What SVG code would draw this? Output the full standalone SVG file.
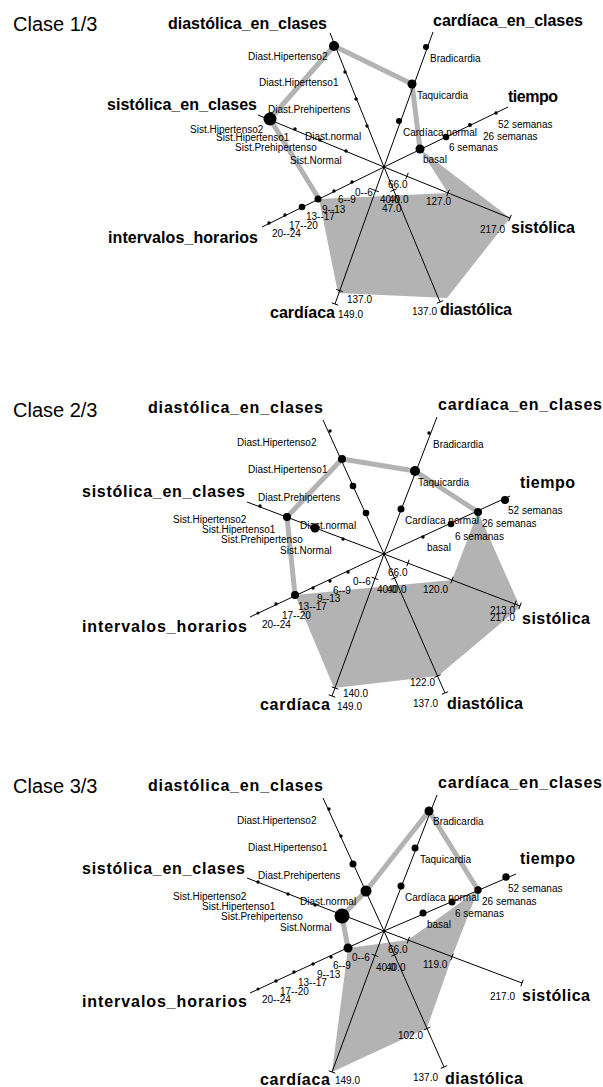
<svg xmlns="http://www.w3.org/2000/svg" width="603" height="1087" viewBox="0 0 603 1087">
<style>
text{font-family:"Liberation Sans",Arial,sans-serif;fill:#000}
.t{font-size:10px}
.h{font-size:16px;font-weight:bold}
.c{font-size:20px}
.ax{stroke:#000;stroke-width:1;fill:none}
.tk{stroke:#000;stroke-width:1}
.fill{fill:#b3b3b3;stroke:none}
.mode{fill:none;stroke:#b3b3b3;stroke-width:5;stroke-linejoin:round;stroke-linecap:round}
.d{fill:#000}
</style>
<rect width="603" height="1087" fill="#fff"/>

<!-- ================= PANEL 1 ================= -->
<g id="panel1">
<text class="c" x="13" y="31">Clase 1/3</text>
<g id="p1-region"><path class="fill" d="M420,149 L510,218 L447,298 L338,293 L319,199 L448,193 Z"/></g>
<g id="p1-connectors"><path class="mode" d="M319,199 L270,119 L334,46 L412,84 L420,149"/></g>
<g id="p1-diastolica_en_clases">
<line class="ax" x1="384" y1="167" x2="330" y2="33"/>
<circle class="d" cx="334" cy="46" r="5"/><circle class="d" cx="345" cy="72" r="1.7"/><circle class="d" cx="356" cy="99" r="1.7"/><circle class="d" cx="367" cy="126" r="1.7"/>
<text class="h" x="168" y="29" textLength="159">diastólica_en_clases</text>
<text class="t" x="248" y="60">Diast.Hipertenso2</text>
<text class="t" x="259" y="86">Diast.Hipertenso1</text>
<text class="t" x="268" y="113">Diast.Prehipertens</text>
<text class="t" x="305" y="140">Diast.normal</text>
</g>
<g id="p1-cardiaca_en_clases">
<line class="ax" x1="384" y1="167" x2="433" y2="32"/>
<circle class="d" cx="426" cy="47" r="3"/><circle class="d" cx="412" cy="84" r="4.5"/><circle class="d" cx="399" cy="121" r="3"/>
<text class="h" x="433" y="26" textLength="150">cardíaca_en_clases</text>
<text class="t" x="430" y="62">Bradicardia</text>
<text class="t" x="417" y="99">Taquicardia</text>
<text class="t" x="403" y="136">Cardíaca normal</text>
</g>
<g id="p1-tiempo">
<line class="ax" x1="384" y1="167" x2="508" y2="107"/>
<circle class="d" cx="496" cy="113" r="1.7"/><circle class="d" cx="470" cy="125" r="2"/><circle class="d" cx="446" cy="137" r="3.3"/><circle class="d" cx="420" cy="149" r="4.5"/>
<text class="h" x="508" y="102" textLength="50">tiempo</text>
<text class="t" x="498" y="128">52 semanas</text>
<text class="t" x="483" y="140">26 semanas</text>
<text class="t" x="449" y="151">6 semanas</text>
<text class="t" x="423" y="163">basal</text>
</g>
<g id="p1-sistolica">
<line class="ax" x1="384" y1="167" x2="510" y2="218"/>
<line class="tk" x1="511.3" y1="214.8" x2="508.7" y2="221.2"/>
<line class="tk" x1="449.3" y1="189.8" x2="446.7" y2="196.2"/>
<line class="tk" x1="408.3" y1="172.8" x2="405.7" y2="179.2"/>
<text class="h" x="511" y="233" textLength="64">sistólica</text>
<text class="t" x="480" y="233">217.0</text>
<text class="t" x="426" y="205">127.0</text>
<text class="t" x="388" y="188">66.0</text>
</g>
<g id="p1-diastolica">
<line class="ax" x1="384" y1="167" x2="440" y2="302"/>
<line class="tk" x1="443.2" y1="300.7" x2="436.8" y2="303.3"/>
<line class="tk" x1="396.8" y1="188.8" x2="390.4" y2="191.4"/>
<text class="h" x="440" y="315" textLength="72">diastólica</text>
<text class="t" x="412" y="315">137.0</text>
<text class="t" x="389" y="203">40.0</text>
<text class="t" x="382" y="212">47.0</text>
</g>
<g id="p1-cardiaca">
<line class="ax" x1="384" y1="167" x2="335" y2="304"/>
<line class="tk" x1="338.3" y1="305.2" x2="331.7" y2="302.8"/>
<line class="tk" x1="342.8" y1="291.7" x2="336.2" y2="289.3"/>
<line class="tk" x1="378.9" y1="191.8" x2="372.3" y2="189.4"/>
<text class="h" x="270" y="318" textLength="65">cardíaca</text>
<text class="t" x="338" y="318">149.0</text>
<text class="t" x="347" y="303">137.0</text>
<text class="t" x="380" y="203">40.0</text>
</g>
<g id="p1-intervalos_horarios">
<line class="ax" x1="384" y1="167" x2="262" y2="227"/>
<circle class="d" cx="352" cy="182" r="1.7"/><circle class="d" cx="334" cy="191" r="1.7"/><circle class="d" cx="318" cy="199" r="3.5"/><circle class="d" cx="302" cy="207" r="3.3"/><circle class="d" cx="285" cy="215" r="1.7"/><circle class="d" cx="269" cy="223" r="1.7"/>
<text class="h" x="108" y="243" textLength="150">intervalos_horarios</text>
<text class="t" x="355" y="196">0--6</text>
<text class="t" x="338" y="203">6--9</text>
<text class="t" x="322" y="213">9--13</text>
<text class="t" x="306" y="220">13--17</text>
<text class="t" x="289" y="229">17--20</text>
<text class="t" x="272" y="237">20--24</text>
</g>
<g id="p1-sistolica_en_clases">
<line class="ax" x1="384" y1="167" x2="258" y2="115"/>
<circle class="d" cx="270" cy="119" r="6.5"/><circle class="d" cx="295" cy="129" r="1.7"/><circle class="d" cx="320" cy="140" r="1.7"/><circle class="d" cx="346" cy="151" r="1.7"/>
<text class="h" x="107" y="110" textLength="150">sistólica_en_clases</text>
<text class="t" x="190" y="133">Sist.Hipertenso2</text>
<text class="t" x="216" y="141">Sist.Hipertenso1</text>
<text class="t" x="235" y="151">Sist.Prehipertenso</text>
<text class="t" x="290" y="164">Sist.Normal</text>
</g>
</g>

<!-- ================= PANEL 2 ================= -->
<g id="panel2">
<text class="c" x="13" y="417">Clase 2/3</text>
<g id="p2-region"><path class="fill" d="M478,512 L520,607 L438,676 L334,688 L295,595 L452,580 Z"/></g>
<g id="p2-connectors"><path class="mode" d="M295,595 L287,517 L342,459 L415,471 L478,512"/></g>
<g id="p2-diastolica_en_clases">
<line class="ax" x1="384" y1="554" x2="323" y2="420"/>
<circle class="d" cx="330" cy="431" r="1.7"/><circle class="d" cx="342" cy="459" r="4"/><circle class="d" cx="353" cy="486" r="3.3"/><circle class="d" cx="366" cy="513" r="3.3"/>
<text class="h" x="148" y="413" textLength="175">diastólica_en_clases</text>
<text class="t" x="237" y="446">Diast.Hipertenso2</text>
<text class="t" x="248" y="473">Diast.Hipertenso1</text>
<text class="t" x="258" y="501">Diast.Prehipertens</text>
<text class="t" x="300" y="529">Diast.normal</text>
</g>
<g id="p2-cardiaca_en_clases">
<line class="ax" x1="384" y1="554" x2="437" y2="417"/>
<circle class="d" cx="429" cy="433" r="1.7"/><circle class="d" cx="415" cy="471" r="5"/><circle class="d" cx="401" cy="509" r="3.5"/>
<text class="h" x="438" y="410" textLength="164">cardíaca_en_clases</text>
<text class="t" x="433" y="448">Bradicardia</text>
<text class="t" x="418" y="486">Taquicardia</text>
<text class="t" x="405" y="524">Cardíaca normal</text>
</g>
<g id="p2-tiempo">
<line class="ax" x1="384" y1="554" x2="510" y2="496"/>
<circle class="d" cx="505" cy="500" r="4"/><circle class="d" cx="478" cy="512" r="4"/><circle class="d" cx="451" cy="524" r="3.3"/><circle class="d" cx="423" cy="537" r="1.7"/>
<text class="h" x="520" y="488" textLength="55">tiempo</text>
<text class="t" x="508" y="514">52 semanas</text>
<text class="t" x="482" y="527">26 semanas</text>
<text class="t" x="455" y="540">6 semanas</text>
<text class="t" x="427" y="551">basal</text>
</g>
<g id="p2-sistolica">
<line class="ax" x1="384" y1="554" x2="520" y2="606"/>
<line class="tk" x1="521.2" y1="602.7" x2="518.8" y2="609.3"/>
<line class="tk" x1="516.2" y1="600.7" x2="513.8" y2="607.3"/>
<line class="tk" x1="453.2" y1="576.7" x2="450.8" y2="583.3"/>
<line class="tk" x1="409.2" y1="559.7" x2="406.8" y2="566.3"/>
<text class="h" x="522" y="624" textLength="68">sistólica</text>
<text class="t" x="490" y="614">213.0</text>
<text class="t" x="490" y="621">217.0</text>
<text class="t" x="423" y="593">120.0</text>
<text class="t" x="388" y="576">66.0</text>
</g>
<g id="p2-diastolica">
<line class="ax" x1="384" y1="554" x2="445" y2="693"/>
<line class="tk" x1="448.2" y1="691.6" x2="441.8" y2="694.4"/>
<line class="tk" x1="440.7" y1="674.6" x2="434.3" y2="677.4"/>
<line class="tk" x1="397.7" y1="576.6" x2="391.3" y2="579.4"/>
<text class="h" x="447" y="709" textLength="76">diastólica</text>
<text class="t" x="413" y="707">137.0</text>
<text class="t" x="410" y="686">122.0</text>
<text class="t" x="387" y="593">40.0</text>
</g>
<g id="p2-cardiaca">
<line class="ax" x1="384" y1="554" x2="332" y2="696"/>
<line class="tk" x1="335.3" y1="697.2" x2="328.7" y2="694.8"/>
<line class="tk" x1="338.3" y1="689.2" x2="331.7" y2="686.8"/>
<line class="tk" x1="378.3" y1="579.6" x2="371.7" y2="577.2"/>
<text class="h" x="260" y="710" textLength="70">cardíaca</text>
<text class="t" x="337" y="710">149.0</text>
<text class="t" x="343" y="697">140.0</text>
<text class="t" x="377" y="593">40.0</text>
</g>
<g id="p2-intervalos_horarios">
<line class="ax" x1="384" y1="554" x2="250" y2="617"/>
<circle class="d" cx="348" cy="572" r="1.7"/><circle class="d" cx="330" cy="581" r="1.7"/><circle class="d" cx="313" cy="588" r="1.7"/><circle class="d" cx="295" cy="595" r="4"/><circle class="d" cx="276" cy="604" r="1.7"/><circle class="d" cx="258" cy="613" r="1.5"/>
<text class="h" x="82" y="632" textLength="165">intervalos_horarios</text>
<text class="t" x="353" y="585">0--6</text>
<text class="t" x="333" y="594">6--9</text>
<text class="t" x="317" y="602">9--13</text>
<text class="t" x="298" y="610">13--17</text>
<text class="t" x="282" y="619">17--20</text>
<text class="t" x="262" y="628">20--24</text>
</g>
<g id="p2-sistolica_en_clases">
<line class="ax" x1="384" y1="554" x2="247" y2="502"/>
<circle class="d" cx="260" cy="506" r="1.7"/><circle class="d" cx="287" cy="517" r="4"/><circle class="d" cx="315" cy="528" r="4.5"/><circle class="d" cx="343" cy="539" r="1.7"/>
<text class="h" x="82" y="497" textLength="163">sistólica_en_clases</text>
<text class="t" x="173" y="523">Sist.Hipertenso2</text>
<text class="t" x="202" y="533">Sist.Hipertenso1</text>
<text class="t" x="221" y="543">Sist.Prehipertenso</text>
<text class="t" x="280" y="554">Sist.Normal</text>
</g>
</g>

<!-- ================= PANEL 3 ================= -->
<g id="panel3">
<text class="c" x="13" y="793">Clase 3/3</text>
<g id="p3-region"><path class="fill" d="M478,890 L452,957 L427,1028 L332,1072 L348,948 L408,940 Z"/></g>
<g id="p3-connectors"><path class="mode" d="M348,948 L342,916 L366,891 L429,811 L478,890"/></g>
<g id="p3-diastolica_en_clases">
<line class="ax" x1="384" y1="931" x2="323" y2="798"/>
<circle class="d" cx="329" cy="809" r="1.7"/><circle class="d" cx="341" cy="836" r="1.7"/><circle class="d" cx="353" cy="864" r="3.5"/><circle class="d" cx="366" cy="891" r="5.5"/>
<text class="h" x="148" y="791" textLength="175">diastólica_en_clases</text>
<text class="t" x="237" y="824">Diast.Hipertenso2</text>
<text class="t" x="248" y="851">Diast.Hipertenso1</text>
<text class="t" x="258" y="879">Diast.Prehipertens</text>
<text class="t" x="300" y="905">Diast.normal</text>
</g>
<g id="p3-cardiaca_en_clases">
<line class="ax" x1="384" y1="931" x2="437" y2="795"/>
<circle class="d" cx="429" cy="811" r="4.5"/><circle class="d" cx="415" cy="848" r="3.5"/><circle class="d" cx="401" cy="886" r="3.5"/>
<text class="h" x="438" y="788" textLength="164">cardíaca_en_clases</text>
<text class="t" x="433" y="825">Bradicardia</text>
<text class="t" x="420" y="863">Taquicardia</text>
<text class="t" x="405" y="901">Cardíaca normal</text>
</g>
<g id="p3-tiempo">
<line class="ax" x1="384" y1="931" x2="516" y2="874"/>
<circle class="d" cx="506" cy="877" r="3.7"/><circle class="d" cx="478" cy="890" r="3.7"/><circle class="d" cx="452" cy="902" r="3.5"/><circle class="d" cx="423" cy="913" r="3.5"/>
<text class="h" x="520" y="864" textLength="55">tiempo</text>
<text class="t" x="508" y="892">52 semanas</text>
<text class="t" x="482" y="905">26 semanas</text>
<text class="t" x="455" y="917">6 semanas</text>
<text class="t" x="427" y="928">basal</text>
</g>
<g id="p3-sistolica">
<line class="ax" x1="384" y1="931" x2="522" y2="983"/>
<line class="tk" x1="523.2" y1="979.7" x2="520.8" y2="986.3"/>
<line class="tk" x1="453.2" y1="953.7" x2="450.8" y2="960.3"/>
<line class="tk" x1="409.5" y1="936.9" x2="407.1" y2="943.5"/>
<text class="h" x="522" y="1001" textLength="68">sistólica</text>
<text class="t" x="490" y="1000">217.0</text>
<text class="t" x="423" y="968">119.0</text>
<text class="t" x="388" y="953">66.0</text>
</g>
<g id="p3-diastolica">
<line class="ax" x1="384" y1="931" x2="444" y2="1067"/>
<line class="tk" x1="447.2" y1="1065.6" x2="440.8" y2="1068.4"/>
<line class="tk" x1="430.2" y1="1027.1" x2="423.8" y2="1029.9"/>
<line class="tk" x1="397.7" y1="953.4" x2="391.3" y2="956.2"/>
<text class="h" x="445" y="1084" textLength="78">diastólica</text>
<text class="t" x="413" y="1081">137.0</text>
<text class="t" x="398" y="1039">102.0</text>
<text class="t" x="386" y="971">40.0</text>
</g>
<g id="p3-cardiaca">
<line class="ax" x1="384" y1="931" x2="332" y2="1072"/>
<line class="tk" x1="335.3" y1="1073.2" x2="328.7" y2="1070.8"/>
<line class="tk" x1="378.3" y1="956.6" x2="371.7" y2="954.2"/>
<text class="h" x="260" y="1085" textLength="70">cardíaca</text>
<text class="t" x="335" y="1084">149.0</text>
<text class="t" x="376" y="971">40.0</text>
</g>
<g id="p3-intervalos_horarios">
<line class="ax" x1="384" y1="931" x2="250" y2="993"/>
<circle class="d" cx="348" cy="948" r="4.5"/><circle class="d" cx="331" cy="957" r="1.7"/><circle class="d" cx="313" cy="964" r="1.7"/><circle class="d" cx="294" cy="972" r="1.7"/><circle class="d" cx="276" cy="981" r="1.7"/><circle class="d" cx="258" cy="989" r="1.5"/>
<text class="h" x="82" y="1007" textLength="165">intervalos_horarios</text>
<text class="t" x="352" y="961">0--6</text>
<text class="t" x="333" y="969">6--9</text>
<text class="t" x="317" y="978">9--13</text>
<text class="t" x="298" y="986">13--17</text>
<text class="t" x="280" y="995">17--20</text>
<text class="t" x="262" y="1003">20--24</text>
</g>
<g id="p3-sistolica_en_clases">
<line class="ax" x1="384" y1="931" x2="247" y2="878"/>
<circle class="d" cx="258" cy="882" r="1.7"/><circle class="d" cx="288" cy="894" r="1.7"/><circle class="d" cx="315" cy="905" r="1.7"/><circle class="d" cx="342" cy="916" r="7.5"/>
<text class="h" x="82" y="874" textLength="163">sistólica_en_clases</text>
<text class="t" x="173" y="900">Sist.Hipertenso2</text>
<text class="t" x="202" y="910">Sist.Hipertenso1</text>
<text class="t" x="221" y="920">Sist.Prehipertenso</text>
<text class="t" x="280" y="931">Sist.Normal</text>
</g>
</g>
</svg>
